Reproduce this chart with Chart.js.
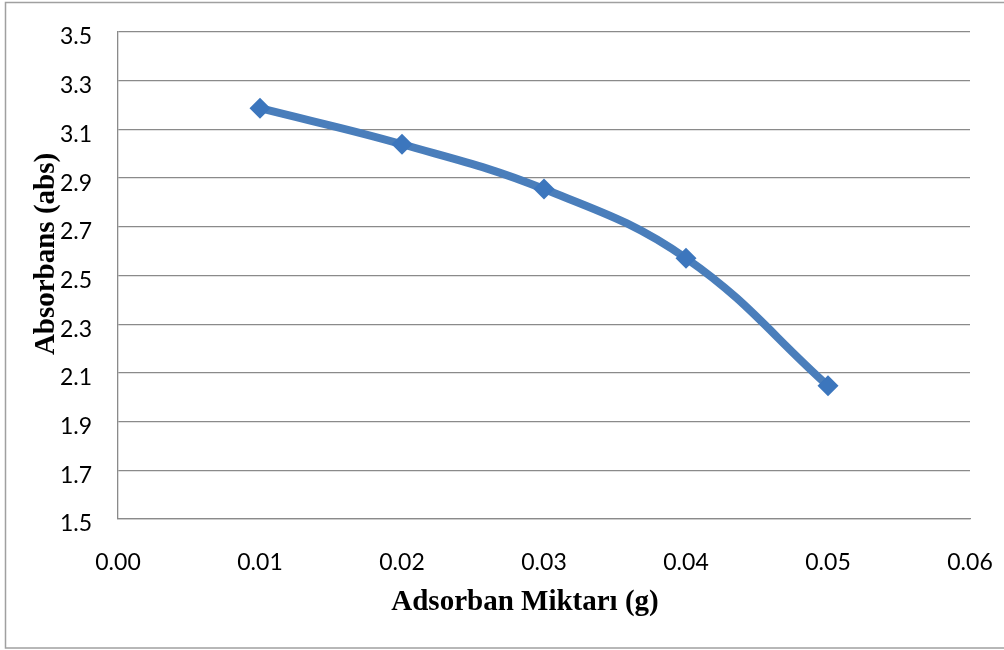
<!DOCTYPE html>
<html>
<head>
<meta charset="utf-8">
<script src="https://cdn.jsdelivr.net/npm/chart.js@4/dist/chart.umd.min.js"></script>
<style>
  html, body { margin: 0; padding: 0; background: #ffffff; }
  #wrap { width: 1004px; height: 650px; position: relative; }
</style>
</head>
<body>
<div id="wrap"><canvas id="c" width="1004" height="650"></canvas></div>
<script>
// Data
const xValues = [0.01, 0.02, 0.03, 0.04, 0.05];
const absorbans = [3.187, 3.039, 2.855, 2.571, 2.047];
const xTitle = 'Adsorban Miktarı (g)';
const yTitle = 'Absorbans (abs)';
const xRange = [0, 0.06];
const yRange = [1.5, 3.5];

const points = xValues.map((x, i) => ({ x: x, y: absorbans[i] }));

const decor = {
  id: 'decor',
  beforeDraw(chart) {
    const ctx = chart.ctx;
    ctx.save();
    ctx.fillStyle = '#ffffff';
    ctx.fillRect(0, 0, chart.width, chart.height);
    ctx.strokeStyle = '#a0a0a0';
    ctx.lineWidth = 1.5;
    ctx.strokeRect(5.5, 2.5, 1010, 645.5);
    ctx.restore();
  },
  afterDraw(chart) {
    const ctx = chart.ctx;
    ctx.save();
    ctx.fillStyle = '#000000';
    ctx.font = 'bold 29px "Liberation Serif", "Times New Roman", serif';
    ctx.textAlign = 'center';
    ctx.textBaseline = 'alphabetic';
    ctx.fillText(xTitle, 525, 609.5);
    ctx.translate(54, 254);
    ctx.rotate(-Math.PI / 2);
    ctx.fillText(yTitle, 0, 0);
    ctx.restore();
  }
};

new Chart(document.getElementById('c'), {
  type: 'line',
  data: {
    datasets: [{
      data: points,
      borderColor: '#4A7EBB',
      backgroundColor: '#3F77BC',
      borderWidth: 8,
      tension: 0.4,
      pointStyle: 'rectRot',
      pointRadius: 10.5,
      pointBorderWidth: 0,
      pointBackgroundColor: '#3C76BD',
      fill: false
    }]
  },
  options: {
    responsive: false,
    animation: false,
    events: [],
    layout: { padding: { left: 0, top: 32, right: 34, bottom: 0 } },
    plugins: { legend: { display: false }, tooltip: { enabled: false } },
    scales: {
      x: {
        type: 'linear',
        min: xRange[0],
        max: xRange[1],
        afterFit: s => { s.height = 131; },
        grid: {
          display: true,
          drawOnChartArea: false,
          color: 'rgba(0,0,0,0)',
          drawTicks: true,
          tickLength: 30,
          tickColor: 'rgba(0,0,0,0)'
        },
        border: { display: true, color: '#8a8a8a', width: 1.3 },
        ticks: {
          stepSize: 0.01,
          padding: 0,
          color: '#000000',
          font: { family: 'Lato', size: 23 },
          maxRotation: 0,
          callback: v => Number(v).toFixed(2)
        }
      },
      y: {
        min: yRange[0],
        max: yRange[1],
        afterFit: s => { s.width = 118; },
        grid: {
          display: true,
          color: '#8a8a8a',
          lineWidth: 1.3,
          drawTicks: true,
          tickLength: 26,
          tickColor: 'rgba(0,0,0,0)'
        },
        border: { display: true, color: '#8a8a8a', width: 1.3 },
        ticks: {
          stepSize: 0.2,
          padding: 0,
          labelOffset: 5,
          color: '#000000',
          font: { family: 'Lato', size: 23 },
          callback: v => Number(v).toFixed(1)
        }
      }
    }
  },
  plugins: [decor]
});
</script>
</body>
</html>
